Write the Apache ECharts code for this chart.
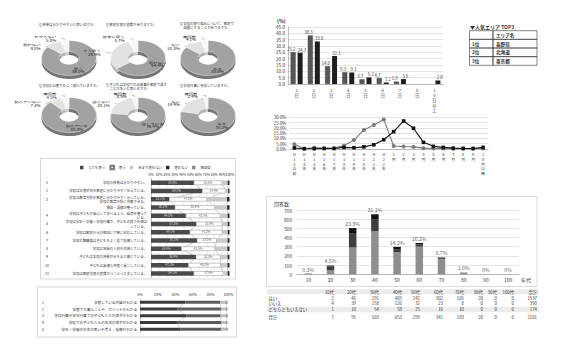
<!DOCTYPE html>
<html><head><meta charset="utf-8">
<script src="https://cdn.jsdelivr.net/npm/echarts@6/dist/echarts.min.js"></script>
<style>
html,body{margin:0;padding:0;background:#fff;overflow:hidden;}
#main{position:absolute;left:0;top:0;width:567px;height:357px;}
#donuts{position:absolute;left:0;top:0;width:260px;height:235px;transform:scaleY(0.64);transform-origin:0 0;pointer-events:none;}
</style></head><body>
<div id="main"></div><div id="donuts"></div>
<script>
// ================= DATA =================
// Donut charts (top-left)
const donutTitles = [
  'Q 授業は分かりやすいと思いますか。',
  'Q 家庭学習の習慣がありますか。',
  'Q 学校の取り組みについて、家庭で\n　話題にすることがありますか。',
  'Q 学校のお便りをよく読んでいますか。',
  'Q 子どもは学校での出来事を家庭で話す\n　ことが多いと思いますか。',
  'Q 学校行事に参加していますか。'
];
const donutNames = [
  ['思う','思わない','わからない'],
  ['思わない','そう思う','非常に思う'],
  ['ある','ない','無回答'],
  ['読んでいる','読んでいない','無回答'],
  ['話している','話さない','無回答'],
  ['ある','ない','無回答']
];
const donutValues = [
  [86.0, 9.0, 5.0],
  [64.4, 29.9, 5.7],
  [85.6, 10.3, 4.1],
  [88.3, 7.2, 4.5],
  [76.4, 20.1, 3.5],
  [78.2, 19.4, 2.4]
];

// Bar chart (top-right)
const stayCats = ['1日','2日','3日','4日','5日','6日','7日','8日','10日以上'];
const stayA = [25.2, 38.3, 14.0, 9.3, 3.7, 4.7, 1.9, null, null];
const stayB = [24.7, 33.6, 22.1, 9.1, 5.2, 1.2, 3.9, null, 2.8];
const topRanks = ['1位','2位','3位'];
const topAreas = ['長野県','北海道','東京都'];

// Line chart (middle-right)
const periodCats = ['H13以前','H14年','H15年','H16年','H17年','H18年','H19年','H20年','H21年','H22年',
  '1月','2月','3月','4月','5月','6月','7月','8月','9月','10月以降'];
const lineGray  = [4.5, 0.3, 1.3, 0.8, 0.8, 3.2, 8.5, 18.0, 22.7, 28.0, 2.8, 2.3, 2.0, 0.8, 0.5, 0.5, 0.2, 0.5, 0.3, 0.5];
const lineBlack = [1.0, 0.3, 0.3, 0.5, 0.5, 1.5, 1.2, 2.0, 4.0, 8.8, 16.4, 26.5, 19.6, 6.3, 2.5, 1.5, 0.8, 0.5, 0.5, 1.5];

// Horizontal stacked bars (middle-left)
const evalNames = ['とても思う','思う','あまり思わない','思わない','無回答'];
const evalNumbers = ['1','2','3','','4','5','6','7','8','9','10','11'];
const evalQuestions = [
  '学校の授業は分かりやすい。',
  '学校は学習状況を家庭に分かりやすく伝えている。',
  '学校は教育方針を家庭に分かりやすく示している。\n学校の教育方針に共感できる。',
  '施設・設備が整っている。',
  '学校は子どもが安心して学べるよう、環境を整えて\nいる。',
  '学校は学年・学級・学校行事で、子どもの良さを伸ば\nしている。',
  '学校は家庭からの相談に丁寧に対応している。',
  '学校の教職員は子どもをよく見て指導している。',
  '学校は地域の人材を活用している。',
  '子どもは学校の授業が分かると感じている。',
  '子どもは友達と仲良く過ごしている。',
  '学校は家庭学習の習慣がつくよう工夫している。'
];
const eval1 = [54.3, 64.8, 23.1, 30.2, 44.0, 57.3, 49.1, 58.2, 38.4, 56.9, 47.2, 54.1];
const eval2 = [35.6, 29.4, 47.8, 50.6, 43.7, 32.9, 41.2, 25.0, 42.5, 31.0, 40.8, 37.6];
const eval3 = [7.2, 3.4, 25.3, 15.6, 9.4, 7.0, 6.9, 13.9, 15.8, 9.1, 9.0, 5.3];
const eval4 = [1.9, 1.6, 2.6, 2.4, 1.9, 1.8, 1.8, 1.9, 2.3, 2.0, 1.9, 1.9];
const eval5 = [1.0, 0.8, 1.2, 1.2, 1.0, 1.0, 1.0, 1.0, 1.0, 1.0, 1.1, 1.1];

// Horizontal stacked bars (bottom-left)
const infoNumbers = ['1','2','3','4','5'];
const infoItems = [
  '学習している内容がわかる',
  '学習で大事なことや、ポイントがわかる',
  '学校行事や学年行事での子どもたちの様子がわかる',
  '学校での子どもたちの生活の様子がわかる',
  '学年・学級の先生の思いや考え、指導がわかる'
];
const info1 = [51.2, 42.6, 52.4, 41.8, 45.5];
const info2 = [39.5, 49.0, 38.7, 50.3, 46.1];
const info3 = [6.8, 6.0, 6.5, 5.7, 6.2];
const info4 = [1.7, 1.6, 1.8, 1.5, 1.6];
const info5 = [0.8, 0.8, 0.6, 0.7, 0.6];

// Stacked columns + table (bottom-right)
const ageCats = ['10','20','30','40','50','60','70','80','90','100'];
const ansNames = ['はい','いいえ','どちらともいえない'];
const ansYes = [2, 46, 291, 469, 242, 302, 165, 20, 0, 0];
const ansNo = [4, 39, 158, 126, 32, 23, 8, 0, 0, 0];
const ansNeither = [1, 10, 54, 58, 25, 16, 10, 0, 0, 0];

// ================= CHART =================
const FONT = "'Noto Sans CJK JP','Noto Sans',sans-serif";
const vert = s => s.split('').join('\n');
const TXT = '#333';

const evalSeries = [eval1, eval2, eval3, eval4, eval5];
const infoSeries = [info1, info2, info3, info4, info5];
const ansSeries = [ansYes, ansNo, ansNeither];
const totals = ageCats.map((c, i) => ansYes[i] + ansNo[i] + ansNeither[i]);
const grand = totals.reduce((a, b) => a + b, 0);

const series = [];
// top bar chart
series.push({type:'bar', name:'A', xAxisIndex:0, yAxisIndex:0, data:stayA, barWidth:5, barGap:'40%',
  itemStyle:{color:'#565656', borderColor:'#333', borderWidth:0.4},
  label:{show:true, position:'top', distance:1, offset:[-1.8, 0], fontSize:4.3, color:TXT, formatter:p => p.value == null ? '' : p.value.toFixed(1)}});
series.push({type:'bar', name:'B', xAxisIndex:0, yAxisIndex:0, data:stayB, barWidth:5,
  itemStyle:{color:'#1e1e1e'},
  label:{show:true, position:'top', distance:1, offset:[1.8, 0], fontSize:4.3, color:TXT, formatter:p => p.value == null ? '' : p.value.toFixed(1)}});
// line chart
series.push({type:'line', name:'G', xAxisIndex:1, yAxisIndex:1, data:lineGray, symbol:'circle', symbolSize:4,
  lineStyle:{color:'#7a7a7a', width:1.1}, itemStyle:{color:'#7a7a7a'}});
series.push({type:'line', name:'K', xAxisIndex:1, yAxisIndex:1, data:lineBlack, symbol:'rect', symbolSize:3.6,
  lineStyle:{color:'#111', width:1.1}, itemStyle:{color:'#111'}});
// mid-left stacked bars
const evalColors = ['#4a4a4a','#ffffff','#c9c9c9','#2a2a2a','#8a8a8a'];
evalNames.forEach((name, k) => {
  series.push({type:'bar', name, stack:'eval', xAxisIndex:2, yAxisIndex:2, data:evalSeries[k], barWidth:4.5, z:3,
    itemStyle:{color:evalColors[k], borderColor:k === 1 ? '#777' : evalColors[k], borderWidth:k === 1 ? 0.4 : 0},
    label:{show:k < 2, position:'inside', fontSize:3, color:k === 0 ? '#ddd' : '#666', formatter:p => p.value.toFixed(1) + '%'}});
});
[1, 2, 3].forEach(b => {
  const cum = eval1.map((v, i) => evalSeries.slice(0, b).reduce((s, arr) => s + arr[i], 0));
  series.push({type:'line', xAxisIndex:2, yAxisIndex:2, data:cum.map((v, i) => [v, i]), symbol:'none', silent:true, z:1,
    lineStyle:{color:'#9a9a9a', width:0.5}});
});
// bottom-left stacked bars
const infoColors = ['#3a3a3a','#5c5c5c','#bdbdbd','#888888','#eeeeee'];
infoSeries.forEach((arr, k) => {
  series.push({type:'bar', name:'info' + k, stack:'info', xAxisIndex:3, yAxisIndex:4, data:arr, barWidth:3, z:3,
    itemStyle:{color:infoColors[k]}});
});
[1, 2, 3].forEach(b => {
  const cum = info1.map((v, i) => infoSeries.slice(0, b).reduce((s, arr) => s + arr[i], 0));
  series.push({type:'line', xAxisIndex:3, yAxisIndex:4, data:cum.map((v, i) => [v, i]), symbol:'none', silent:true, z:1,
    lineStyle:{color:'#aaa', width:0.5}});
});
// bottom-right stacked columns
const ansColors = ['#8e8e8e','#3e3e3e','#121212'];
ansNames.forEach((name, k) => {
  series.push({type:'bar', name, stack:'ans', xAxisIndex:4, yAxisIndex:6, data:ansSeries[k], barWidth:7.5,
    itemStyle:{color:ansColors[k]}});
});
series.push({type:'scatter', xAxisIndex:4, yAxisIndex:6, data:totals, symbolSize:0.1, silent:true, z:5,
  itemStyle:{color:'rgba(0,0,0,0)'},
  label:{show:true, position:'top', distance:2, fontSize:5.2, color:TXT,
    formatter:p => p.value === 0 ? '0%' : (p.value / grand * 100).toFixed(1) + '%'}});

// ---- graphic (boxes, tables, captions) ----
const G = [];
const txt = (x, y, text, o = {}) => G.push({type:'text', x, y, silent:true,
  style:{text, fill:o.fill || TXT, fontSize:o.size || 5, fontFamily:FONT, fontWeight:o.bold ? 'bold' : 'normal',
    align:o.align || 'left', verticalAlign:'middle', textAlign:o.align || 'left', textVerticalAlign:'middle'}});
const rect = (x, y, w, h, stroke, fill) => G.push({type:'rect', silent:true, shape:{x, y, width:w, height:h},
  style:{fill:fill || 'none', stroke:stroke || 'none', lineWidth:0.6}});

rect(40.5, 158.5, 195, 120.5, '#bdbdbd');
rect(37.5, 287, 199, 50, '#bdbdbd');
rect(266.5, 196.5, 270.5, 90, '#c4c4c4');
txt(277, 20.5, '(%)', {size:5, bold:true});
txt(470, 26, '▼人気エリア TOP3', {size:5, bold:true});
// top-3 table
const t3 = [['', 'エリア名']].concat(topRanks.map((r, i) => [r, topAreas[i]]));
t3.forEach((row, r) => {
  const y = 30.7 + r * 8.65;
  rect(469.5, y, 23.5, 8.65, '#333');
  rect(493, y, 44, 8.65, '#333');
  txt(472, y + 4.4, row[0], {size:4.6, bold:true});
  txt(496, y + 4.4, row[1], {size:4.6, bold:true});
});
txt(274, 203, '回答数', {size:5});
txt(521, 279.5, '年代', {size:5});
// bottom-right table
const colX = [334, 356, 379, 402, 420, 443, 464, 483, 497, 514, 537];
const rowY = [291.6, 297.6, 303.2, 309.4, 316.8];
rect(267, 289, 272, 5.3, null, '#ececec');
rect(267, 306.7, 272, 5.5, null, '#ececec');
const header = ageCats.map(c => c + '代').concat(['合計']);
header.forEach((h, j) => txt(colX[j], rowY[0], h, {size:4.3, align:'right'}));
const sum = a => a.reduce((s, v) => s + v, 0);
const tableRows = [
  ['はい', ansYes.concat([sum(ansYes)])],
  ['いいえ', ansNo.concat([sum(ansNo)])],
  ['どちらともいえない', ansNeither.concat([sum(ansNeither)])],
  ['合計', totals.concat([grand])]
];
tableRows.forEach((row, r) => {
  txt(268.5, rowY[r + 1], row[0], {size:4.3});
  row[1].forEach((v, j) => txt(colX[j], rowY[r + 1], String(v), {size:4.3, align:'right'}));
});

const titlePos = [[39, 22.5], [106, 22.5], [180, 21.5], [39, 83], [106, 82.5], [180, 83]];

const option = {
  animation:false,
  backgroundColor:'#fff',
  textStyle:{fontFamily:FONT},
  title:donutTitles.map((t, i) => ({text:t, left:titlePos[i][0], top:titlePos[i][1], padding:0,
    textStyle:{fontSize:3.4, fontWeight:'normal', color:TXT, lineHeight:4.2}})),
  legend:{data:evalNames, left:80, top:164.8, padding:0, itemWidth:3.5, itemHeight:3.5, itemGap:4, icon:'rect',
    selectedMode:false, textStyle:{fontSize:3.4, color:TXT}},
  grid:[
    {left:288, top:27, width:155, height:57},
    {left:289.4, top:117.3, width:198.6, height:31.7},
    {left:151, top:178.6, width:79, height:99},
    {left:140, top:299, width:88.3, height:33.5},
    {left:297.2, top:210, width:222, height:64.3}
  ],
  xAxis:[
    {gridIndex:0, type:'category', data:stayCats, axisTick:{show:false},
      axisLine:{lineStyle:{color:'#999', width:0.6}},
      axisLabel:{interval:0, fontSize:4.2, lineHeight:5, color:TXT, margin:3, formatter:vert}},
    {gridIndex:1, type:'category', data:periodCats, axisTick:{show:false},
      axisLine:{lineStyle:{color:'#999', width:0.6}},
      axisLabel:{interval:0, fontSize:3.9, lineHeight:4.7, color:TXT, margin:3, formatter:vert}},
    {gridIndex:2, type:'value', position:'top', min:0, max:100, interval:10,
      axisLine:{show:false}, axisTick:{show:false},
      axisLabel:{fontSize:3.4, margin:2, color:TXT, formatter:'{value}%'},
      splitLine:{show:true, lineStyle:{color:'#9a9a9a', width:0.4, type:[1, 1]}}},
    {gridIndex:3, type:'value', position:'top', min:0, max:100, interval:20,
      axisLine:{show:false}, axisTick:{show:false},
      axisLabel:{fontSize:3.8, margin:3, color:TXT, formatter:'{value}%'},
      splitLine:{show:false}},
    {gridIndex:4, type:'category', data:ageCats, axisTick:{show:false},
      axisLine:{lineStyle:{color:'#999', width:0.6}},
      axisLabel:{interval:0, fontSize:5, color:TXT, margin:3}}
  ],
  yAxis:[
    {gridIndex:0, type:'value', min:0, max:45, interval:5,
      axisLine:{show:true, lineStyle:{color:'#999', width:0.6}},
      axisLabel:{fontSize:4.6, color:TXT, margin:3, formatter:v => v.toFixed(1)},
      splitLine:{lineStyle:{color:'#d2d2d2', width:0.6}}},
    {gridIndex:1, type:'value', min:0, max:30, interval:5, axisLine:{show:false},
      axisLabel:{fontSize:4.4, color:TXT, margin:3, formatter:v => v.toFixed(1) + '%'},
      splitLine:{lineStyle:{color:'#d2d2d2', width:0.6}}},
    {gridIndex:2, type:'category', data:evalQuestions, inverse:true, axisTick:{show:false},
      axisLine:{show:true, lineStyle:{color:'#888', width:0.5}},
      axisLabel:{interval:0, fontSize:3.4, lineHeight:4.1, color:TXT, margin:4}},
    {gridIndex:2, type:'category', data:evalNumbers, inverse:true, position:'left', offset:104,
      axisLine:{show:false}, axisTick:{show:false},
      axisLabel:{interval:0, fontSize:3.6, color:TXT, margin:0, align:'center'}},
    {gridIndex:3, type:'category', data:infoItems, inverse:true, axisTick:{show:false},
      axisLine:{show:true, lineStyle:{color:'#888', width:0.5}},
      axisLabel:{interval:0, fontSize:3.6, color:TXT, margin:3}},
    {gridIndex:3, type:'category', data:infoNumbers, inverse:true, position:'left', offset:97,
      axisLine:{show:false}, axisTick:{show:false},
      axisLabel:{interval:0, fontSize:3.6, color:TXT, margin:0, align:'center'}},
    {gridIndex:4, type:'value', min:0, max:700, interval:100, axisLine:{show:false},
      axisLabel:{fontSize:4.8, color:TXT, margin:5},
      splitLine:{lineStyle:{color:'#d2d2d2', width:0.6}}}
  ],
  series,
  graphic:{elements:G}
};
const main = echarts.init(document.getElementById('main'), null, {renderer:'svg', width:567, height:357});
main.setOption(option);

// ---- donuts (drawn in a vertically squeezed layer to look tilted) ----
const S = 0.64;
const donutCX = [69, 138, 208];
const donutCY = [58, 115];
const donutColors = ['#a2a2a2', '#e2e2e2', '#f7f7f7'];
const sideColors = ['#767676', '#b4b4b4', '#cdcdcd'];
const dSeries = [];
donutValues.forEach((vals, i) => {
  const cx = donutCX[i % 3], cy = donutCY[Math.floor(i / 3)] / S;
  dSeries.push({type:'pie', silent:true, z:1, center:[cx, cy + 5.5], radius:[10, 27.5], startAngle:90,
    label:{show:false}, labelLine:{show:false},
    data:vals.map((v, j) => ({value:v, name:donutNames[i][j], itemStyle:{color:sideColors[j]}}))});
  dSeries.push({type:'pie', silent:true, z:2, center:[cx, cy], radius:[10, 27.5], startAngle:90,
    avoidLabelOverlap:true,
    itemStyle:{borderColor:'#fff', borderWidth:0.5},
    data:vals.map((v, j) => ({value:v, name:donutNames[i][j], itemStyle:{color:donutColors[j]},
      label:{show:true, position:j === 0 ? 'inside' : 'outside', fontSize:4.4, lineHeight:5.3, color:'#222',
        formatter:p => p.name + '\n' + p.value.toFixed(1) + '%'},
      labelLine:{show:j !== 0, length:3, length2:3, lineStyle:{width:0.4, color:'#555'}}}))});
});
const dchart = echarts.init(document.getElementById('donuts'), null, {renderer:'svg', width:260, height:235});
dchart.setOption({animation:false, textStyle:{fontFamily:FONT}, series:dSeries});
</script></body></html>
